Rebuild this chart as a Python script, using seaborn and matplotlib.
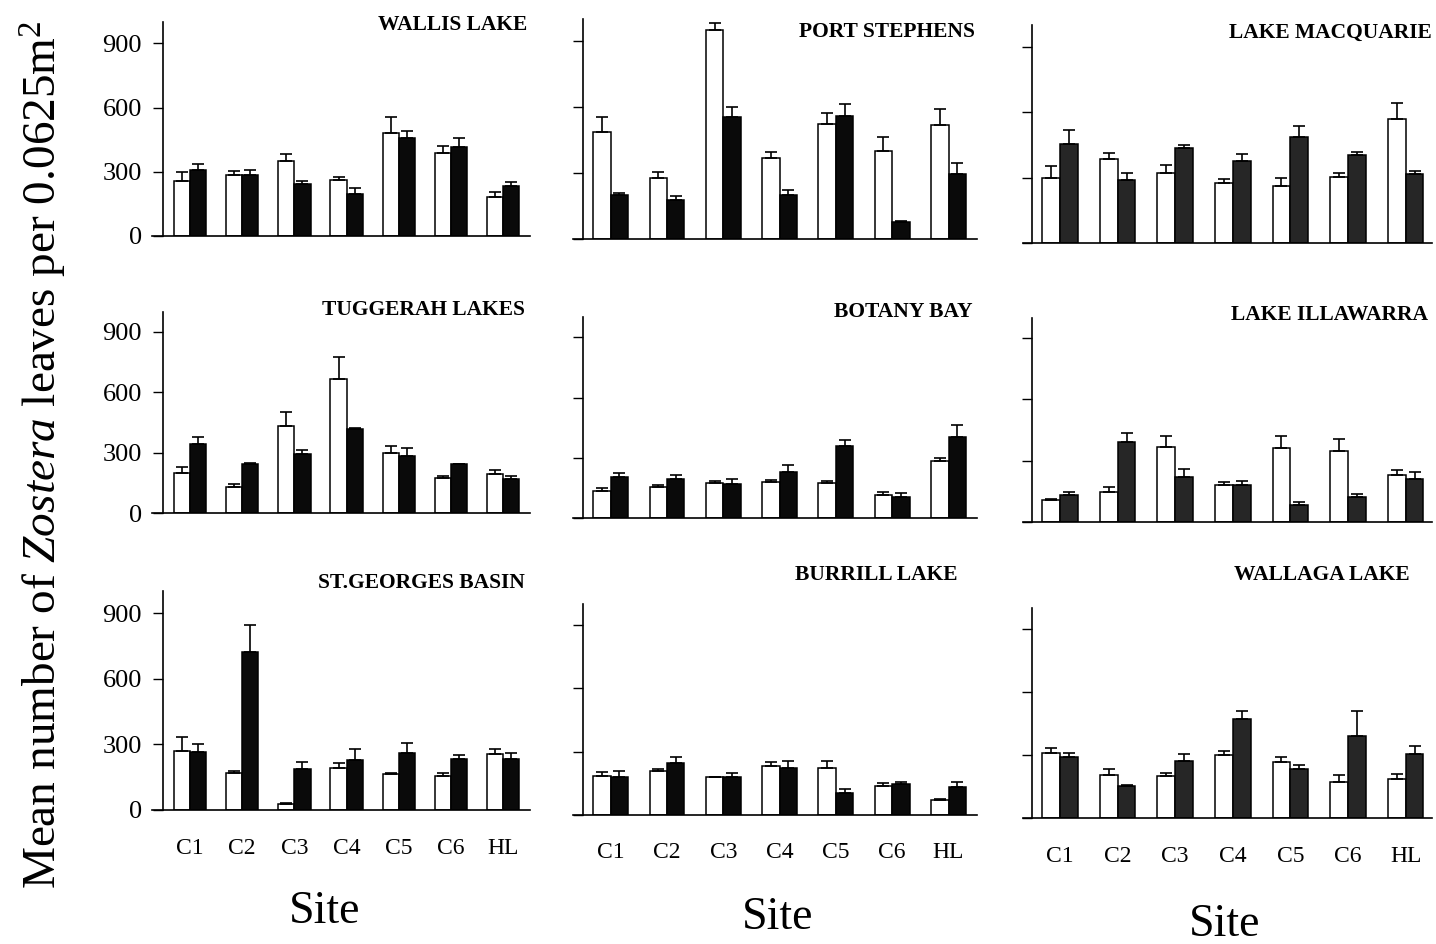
import matplotlib
matplotlib.use("Agg")
import matplotlib.pyplot as plt
import seaborn as sns
import pandas as pd
import numpy as np

# ---------------- data ----------------
SITES = ["C1", "C2", "C3", "C4", "C5", "C6", "HL"]
LAKES = ["WALLIS LAKE", "PORT STEPHENS", "LAKE MACQUARIE",
         "TUGGERAH LAKES", "BOTANY BAY", "LAKE ILLAWARRA",
         "ST.GEORGES BASIN", "BURRILL LAKE", "WALLAGA LAKE"]
Y_TICKS = [0, 300, 600, 900]

WALLIS_OPEN = [256, 284, 349, 260, 480, 386, 183]
WALLIS_OPEN_SE = [43, 20, 35, 14, 78, 34, 23]
WALLIS_FILLED = [310, 284, 245, 195, 460, 418, 232]
WALLIS_FILLED_SE = [28, 26, 12, 31, 30, 41, 20]

PORT_OPEN = [487, 280, 952, 370, 525, 402, 520]
PORT_OPEN_SE = [70, 26, 31, 28, 50, 64, 72]
PORT_FILLED = [200, 177, 557, 200, 560, 80, 295]
PORT_FILLED_SE = [12, 21, 45, 24, 53, 4, 51]

MACQ_OPEN = [297, 387, 322, 278, 262, 302, 568]
MACQ_OPEN_SE = [57, 28, 35, 16, 36, 21, 76]
MACQ_FILLED = [453, 290, 436, 377, 485, 403, 316]
MACQ_FILLED_SE = [67, 33, 13, 33, 52, 17, 16]

TUGG_OPEN = [202, 132, 435, 665, 301, 174, 193]
TUGG_OPEN_SE = [29, 12, 69, 109, 31, 13, 22]
TUGG_FILLED = [341, 246, 293, 418, 286, 243, 172]
TUGG_FILLED_SE = [36, 4, 21, 3, 40, 3, 13]

BOTANY_OPEN = [136, 156, 173, 178, 173, 115, 282]
BOTANY_OPEN_SE = [13, 7, 13, 11, 13, 14, 18]
BOTANY_FILLED = [203, 193, 171, 231, 357, 106, 402]
BOTANY_FILLED_SE = [23, 23, 22, 31, 33, 17, 63]

ILLA_OPEN = [105, 146, 367, 182, 362, 346, 231]
ILLA_OPEN_SE = [7, 23, 53, 13, 61, 61, 22]
ILLA_FILLED = [133, 389, 218, 182, 82, 121, 208]
ILLA_FILLED_SE = [15, 46, 43, 20, 13, 17, 35]

STG_OPEN = [271, 168, 29, 191, 166, 156, 256]
STG_OPEN_SE = [65, 9, 5, 23, 5, 12, 23]
STG_FILLED = [264, 721, 186, 230, 261, 232, 235]
STG_FILLED_SE = [36, 125, 35, 49, 44, 20, 27]

BURR_OPEN = [182, 208, 178, 230, 220, 138, 70]
BURR_OPEN_SE = [21, 9, 3, 19, 34, 14, 3]
BURR_FILLED = [181, 247, 181, 223, 105, 144, 133]
BURR_FILLED_SE = [27, 27, 16, 32, 19, 13, 22]

WALLAGA_OPEN = [309, 206, 200, 303, 268, 171, 189]
WALLAGA_OPEN_SE = [27, 29, 14, 19, 25, 35, 20]
WALLAGA_FILLED = [290, 155, 271, 471, 233, 390, 307]
WALLAGA_FILLED_SE = [19, 2, 33, 41, 22, 122, 37]

OPEN = [WALLIS_OPEN, PORT_OPEN, MACQ_OPEN, TUGG_OPEN, BOTANY_OPEN,
        ILLA_OPEN, STG_OPEN, BURR_OPEN, WALLAGA_OPEN]
OPEN_SE = [WALLIS_OPEN_SE, PORT_OPEN_SE, MACQ_OPEN_SE, TUGG_OPEN_SE,
           BOTANY_OPEN_SE, ILLA_OPEN_SE, STG_OPEN_SE, BURR_OPEN_SE,
           WALLAGA_OPEN_SE]
FILLED = [WALLIS_FILLED, PORT_FILLED, MACQ_FILLED, TUGG_FILLED,
          BOTANY_FILLED, ILLA_FILLED, STG_FILLED, BURR_FILLED,
          WALLAGA_FILLED]
FILLED_SE = [WALLIS_FILLED_SE, PORT_FILLED_SE, MACQ_FILLED_SE,
             TUGG_FILLED_SE, BOTANY_FILLED_SE, ILLA_FILLED_SE,
             STG_FILLED_SE, BURR_FILLED_SE, WALLAGA_FILLED_SE]

# ---------------- style ----------------
sns.set_style("ticks")
plt.rcParams["font.family"] = ["Liberation Serif", "DejaVu Serif"]
plt.rcParams["mathtext.fontset"] = "custom"
plt.rcParams["mathtext.rm"] = "Liberation Serif"
plt.rcParams["mathtext.it"] = "Liberation Serif:italic"

W, H = 1436, 944
fig = plt.figure(figsize=(W / 100, H / 100), dpi=100)
fig.patch.set_facecolor("white")

# layout (pixels): per column: unit px, centre of first group, xlim left/right, y-spine x
COLS = [(52.2, 190.0, -0.72, 6.52, -0.52),
        (56.3, 610.7, -0.67, 6.50, -0.50),
        (57.6, 1060.0, -0.65, 6.45, -0.49)]
# per panel: pixel y of value 0 and of value 900
YPIX = [(236.0, 43.3), (239.3, 41.0), (243.3, 46.7),
        (513.3, 331.7), (518.0, 337.3), (521.7, 338.3),
        (810.0, 613.3), (814.7, 625.3), (818.3, 629.0)]
TITLE_POS = [(527, 25), (975, 32), (1432, 33),
             (525, 310), (973, 312), (1428, 315),
             (525, 583), (957, 575), (1410, 575)]
FILL_COLORS = ["#0a0a0a", "#0a0a0a", "#262626"]

for idx, lake in enumerate(LAKES):
    r, c = divmod(idx, 3)
    unit, c0, xl, xr, spx = COLS[c]
    y0, y900 = YPIX[idx]
    ytop = y0 - (y0 - y900) / 0.9
    left_px = c0 + xl * unit
    width_px = (xr - xl) * unit
    ax = fig.add_axes([left_px / W, 1 - y0 / H, width_px / W, (y0 - ytop) / H])

    df = pd.DataFrame({
        "site": SITES * 2,
        "treat": ["open"] * len(SITES) + ["filled"] * len(SITES),
        "value": list(OPEN[idx]) + list(FILLED[idx]),
    })
    sns.barplot(data=df, x="site", y="value", hue="treat",
                hue_order=["open", "filled"],
                palette={"open": "white", "filled": FILL_COLORS[c]},
                saturation=1, edgecolor="black", linewidth=1.1,
                width=0.62, errorbar=None, legend=False, ax=ax)

    for cont, se in zip(ax.containers, [OPEN_SE[idx], FILLED_SE[idx]]):
        xs = [p.get_x() + p.get_width() / 2 for p in cont]
        ys = [p.get_height() for p in cont]
        ax.errorbar(xs, ys, yerr=[np.zeros(len(se)), se], fmt="none",
                    ecolor="black", elinewidth=1.2, capsize=4,
                    capthick=1.2, zorder=5)

    ax.set_xlim(xl, xr)
    ax.set_ylim(0, 1000)
    ax.set_xlabel("")
    ax.set_ylabel("")
    sns.despine(ax=ax)
    ax.spines["left"].set_position(("data", spx))
    for s in ("left", "bottom"):
        ax.spines[s].set_linewidth(1.2)
        ax.spines[s].set_color("black")
    ax.set_yticks(Y_TICKS)
    ax.tick_params(axis="y", direction="out", length=7, width=1,
                   labelsize=19, pad=8, colors="black")
    ax.tick_params(axis="x", length=0, labelsize=17, pad=20, colors="black")
    if c != 0:
        ax.tick_params(axis="y", labelleft=False)
    if r != 2:
        ax.tick_params(axis="x", labelbottom=False)
    ax.grid(False)
    ax.set_facecolor("none")

    tx, ty = TITLE_POS[idx]
    fig.text(tx / W, 1 - ty / H, lake, ha="right", va="center",
             fontsize=15.5, fontweight="bold", color="black")

# shared labels
fig.text(44 / W, 1 - 455 / H,
         r"Mean number of $\it{Zostera}$ leaves per 0.0625m$^2$",
         rotation=90, ha="center", va="center", fontsize=34, color="black")
for x, y in [(325, 912), (778, 918), (1225, 925)]:
    fig.text(x / W, 1 - y / H, "Site", ha="center", va="center",
             fontsize=33, color="black")

fig.savefig("out.png", dpi=100, facecolor="white")
